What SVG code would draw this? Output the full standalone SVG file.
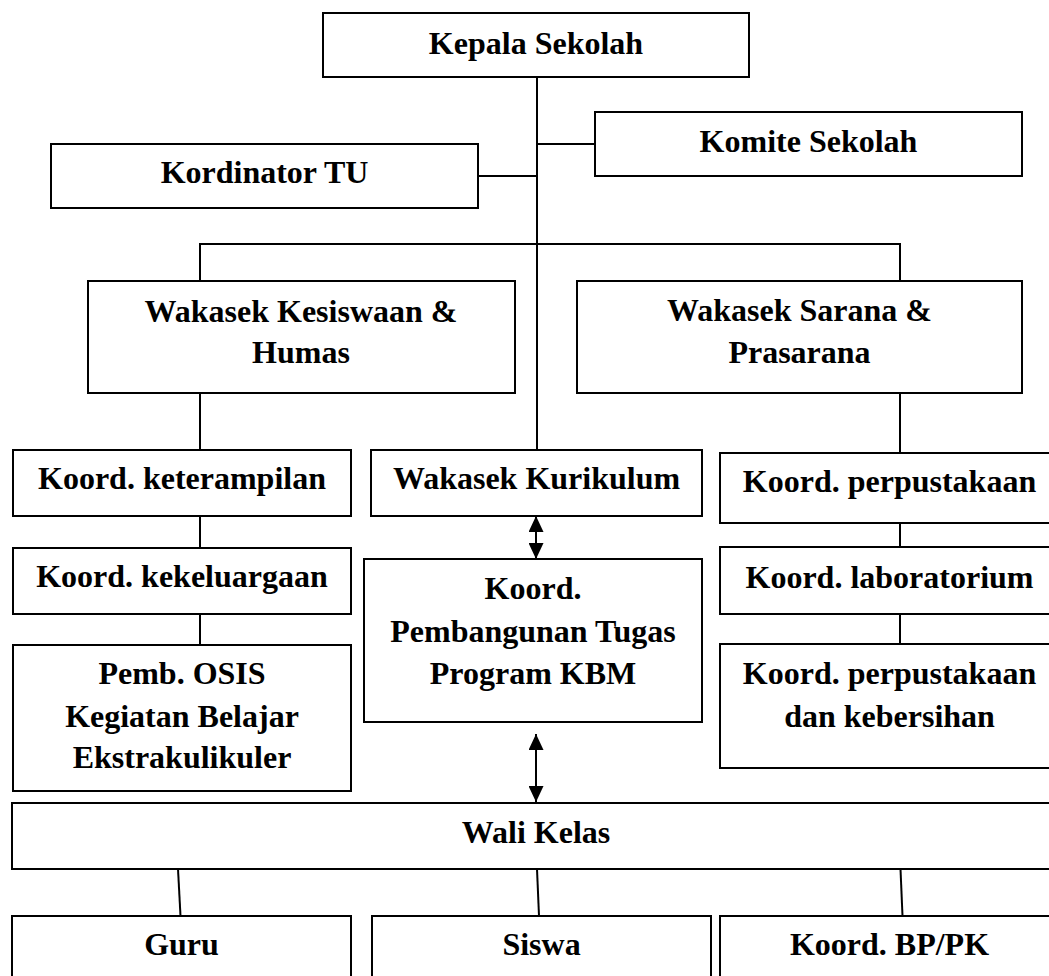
<svg xmlns="http://www.w3.org/2000/svg" width="1049" height="976" viewBox="0 0 1049 976">
<style>
.box{fill:#fff;stroke:#000;stroke-width:2}
.t{font-family:"Liberation Serif","Times New Roman",serif;font-weight:bold;font-size:32px;text-anchor:middle;fill:#000}
.c{stroke:#000;stroke-width:2;fill:none}
</style>
<defs>
<marker id="ah" viewBox="0 0 16 15" refX="16" refY="7.5" markerWidth="16" markerHeight="15" markerUnits="userSpaceOnUse" orient="auto-start-reverse">
<path d="M0,0 L16,7.5 L0,15 z" fill="#000"/>
</marker>
</defs>
<rect x="0" y="0" width="1049" height="976" fill="#fff"/>
<g id="connectors">
<line class="c" x1="537" y1="77" x2="537" y2="450"/>
<line class="c" x1="537" y1="144" x2="595" y2="144"/>
<line class="c" x1="478" y1="176" x2="537" y2="176"/>
<polyline class="c" points="200,281 200,244 900,244 900,281"/>
<line class="c" x1="200" y1="393" x2="200" y2="450"/>
<line class="c" x1="200" y1="516" x2="200" y2="548"/>
<line class="c" x1="200" y1="614" x2="200" y2="645"/>
<line class="c" x1="900" y1="393" x2="900" y2="453"/>
<line class="c" x1="900" y1="523" x2="900" y2="547"/>
<line class="c" x1="900" y1="614" x2="900" y2="644"/>
<line class="c" x1="536" y1="516" x2="536" y2="559" marker-start="url(#ah)" marker-end="url(#ah)"/>
<line class="c" x1="536" y1="734" x2="536" y2="802" marker-start="url(#ah)" marker-end="url(#ah)"/>
<line class="c" x1="178" y1="869" x2="180.5" y2="916"/>
<line class="c" x1="537" y1="869" x2="539" y2="916"/>
<line class="c" x1="900.5" y1="869" x2="902.5" y2="916"/>
</g>
<g id="kepala"><rect class="box" x="323" y="13" width="426" height="64"/><text class="t" x="536" y="54">Kepala Sekolah</text></g>
<g id="komite"><rect class="box" x="595" y="112" width="427" height="64"/><text class="t" x="808.5" y="152">Komite Sekolah</text></g>
<g id="tu"><rect class="box" x="51" y="144" width="427" height="64"/><text class="t" x="264.5" y="183">Kordinator TU</text></g>
<g id="kesiswaan"><rect class="box" x="88" y="281" width="427" height="112"/><text class="t" x="301" y="322">Wakasek Kesiswaan &amp;</text><text class="t" x="301" y="363">Humas</text></g>
<g id="sarana"><rect class="box" x="577" y="281" width="445" height="112"/><text class="t" x="799.5" y="321">Wakasek Sarana &amp;</text><text class="t" x="799.5" y="363">Prasarana</text></g>
<g id="keterampilan"><rect class="box" x="13" y="450" width="338" height="66"/><text class="t" x="182" y="489">Koord. keterampilan</text></g>
<g id="kurikulum"><rect class="box" x="371" y="450" width="331" height="66"/><text class="t" x="536.5" y="489">Wakasek Kurikulum</text></g>
<g id="perpustakaan"><rect class="box" x="720" y="453" width="340" height="70"/><text class="t" x="889.5" y="492">Koord. perpustakaan</text></g>
<g id="kekeluargaan"><rect class="box" x="13" y="548" width="338" height="66"/><text class="t" x="182" y="587">Koord. kekeluargaan</text></g>
<g id="kbm"><rect class="box" x="364" y="559" width="338" height="163"/><text class="t" x="533" y="599">Koord.</text><text class="t" x="533" y="641.5">Pembangunan Tugas</text><text class="t" x="533" y="684">Program KBM</text></g>
<g id="laboratorium"><rect class="box" x="720" y="547" width="340" height="67"/><text class="t" x="889.5" y="588">Koord. laboratorium</text></g>
<g id="osis"><rect class="box" x="13" y="645" width="338" height="146"/><text class="t" x="182" y="684">Pemb. OSIS</text><text class="t" x="182" y="726.5">Kegiatan Belajar</text><text class="t" x="182" y="768">Ekstrakulikuler</text></g>
<g id="kebersihan"><rect class="box" x="720" y="644" width="340" height="124"/><text class="t" x="889.5" y="684">Koord. perpustakaan</text><text class="t" x="889.5" y="726.5">dan kebersihan</text></g>
<g id="wali"><rect class="box" x="12" y="803" width="1048" height="66"/><text class="t" x="536" y="843">Wali Kelas</text></g>
<g id="guru"><rect class="box" x="12" y="916" width="339" height="80"/><text class="t" x="181.5" y="955">Guru</text></g>
<g id="siswa"><rect class="box" x="372" y="916" width="339" height="80"/><text class="t" x="541.5" y="955">Siswa</text></g>
<g id="bppk"><rect class="box" x="720" y="916" width="340" height="80"/><text class="t" x="889.5" y="955">Koord. BP/PK</text></g>
</svg>
